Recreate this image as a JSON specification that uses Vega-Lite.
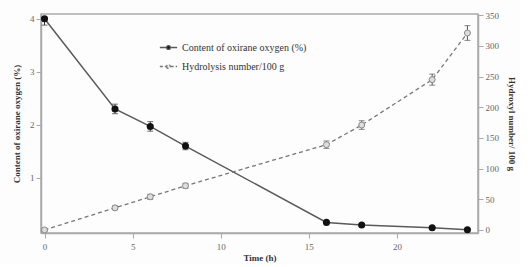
{
  "$schema": "https://vega.github.io/schema/vega-lite/v6.json",
  "width": 437,
  "height": 219,
  "padding": {"left": 12, "top": 11, "right": 4, "bottom": 2},
  "background": "#fdfdfd",
  "config": {
    "font": "Liberation Serif",
    "view": {"stroke": "#aaaaaa", "strokeWidth": 1.5},
    "axis": {"grid": false, "domainColor": "#aaaaaa", "tickColor": "#aaaaaa", "labelColor": "#666666", "labelFontSize": 9, "titleFontSize": 9, "titleFontWeight": "bold", "titleColor": "#333333", "domainWidth": 1.5, "labelOverlap": false}
  },
  "data": {"values": [
    {"t": 0, "ox": 4.0, "oxlo": 3.88, "oxhi": 4.03, "hy": 0, "hylo": -2, "hyhi": 2},
    {"t": 4, "ox": 2.3, "oxlo": 2.21, "oxhi": 2.39, "hy": 36, "hylo": 33, "hyhi": 39},
    {"t": 6, "ox": 1.97, "oxlo": 1.88, "oxhi": 2.06, "hy": 54, "hylo": 50, "hyhi": 58},
    {"t": 8, "ox": 1.6, "oxlo": 1.53, "oxhi": 1.67, "hy": 72, "hylo": 68, "hyhi": 76},
    {"t": 16, "ox": 0.16, "oxlo": 0.14, "oxhi": 0.18, "hy": 139, "hylo": 133, "hyhi": 145},
    {"t": 18, "ox": 0.11, "oxlo": 0.09, "oxhi": 0.13, "hy": 171, "hylo": 164, "hyhi": 178},
    {"t": 22, "ox": 0.06, "oxlo": 0.05, "oxhi": 0.07, "hy": 245, "hylo": 236, "hyhi": 254},
    {"t": 24, "ox": 0.02, "oxlo": 0.01, "oxhi": 0.03, "hy": 321, "hylo": 309, "hyhi": 333}
  ]},
  "layer": [
    {
      "encoding": {
        "x": {"field": "t", "type": "quantitative", "scale": {"domain": [-0.2, 24.6], "nice": false, "zero": false}, "axis": {"values": [0, 5, 10, 15, 20], "title": "Time (h)", "titlePadding": 2, "labelPadding": 4}}
      },
      "layer": [
        {
          "mark": {"type": "line", "strokeWidth": 1.5},
          "encoding": {
            "y": {"field": "ox", "type": "quantitative", "title": "Content of oxirane oxygen (%)", "scale": {"domain": [-0.04, 4.09], "nice": false, "zero": false}, "axis": {"values": [1, 2, 3, 4], "format": "d", "orient": "left", "titlePadding": 8, "labelOverlap": false}},
            "color": {"datum": "Content of oxirane oxygen (%)", "type": "nominal", "scale": {"domain": ["Content of oxirane oxygen (%)", "Hydrolysis number/100 g"], "range": ["#5a5a5a", "#777777"]},
              "legend": {"orient": "none", "legendX": 118, "legendY": 24, "title": null, "labelFont": "Liberation Serif", "labelFontSize": 10, "labelColor": "#333333", "rowPadding": 4, "symbolSize": 300, "symbolStrokeWidth": 1.3,
                "symbolType": "M-1,0L-0.25,0M0.25,0L1,0M-0.22,0A0.22,0.22 0 1,0 0.22,0A0.22,0.22 0 1,0 -0.22,0Z",
                "encode": {"symbols": {"update": {
                  "fill": {"signal": "datum.value === 'Content of oxirane oxygen (%)' ? '#111111' : '#eeeeee'"},
                  "stroke": {"signal": "datum.value === 'Content of oxirane oxygen (%)' ? '#111111' : '#888888'"},
                  "strokeDash": {"signal": "datum.value === 'Content of oxirane oxygen (%)' ? [] : [3, 2]"}
                }}}}}
          }
        },
        {
          "mark": {"type": "errorbar", "ticks": {"size": 6, "color": "#333333"}, "color": "#333333"},
          "encoding": {"y": {"field": "oxlo", "type": "quantitative", "title": "Content of oxirane oxygen (%)", "axis": {"values": [1, 2, 3, 4], "format": "d", "orient": "left", "titlePadding": 8, "labelOverlap": false}}, "y2": {"field": "oxhi"}}
        },
        {
          "mark": {"type": "point", "filled": true, "color": "#111111", "size": 50, "opacity": 1},
          "encoding": {"y": {"field": "ox", "type": "quantitative", "title": "Content of oxirane oxygen (%)", "axis": {"values": [1, 2, 3, 4], "format": "d", "orient": "left", "titlePadding": 8, "labelOverlap": false}}}
        }
      ]
    },
    {
      "encoding": {
        "x": {"field": "t", "type": "quantitative"}
      },
      "layer": [
        {
          "mark": {"type": "line", "color": "#777777", "strokeWidth": 1.3, "strokeDash": [4, 3]},
          "encoding": {
            "y": {"field": "hy", "type": "quantitative", "title": "Hydroxyl number/ 100 g", "scale": {"domain": [-5, 352], "nice": false, "zero": false}, "axis": {"values": [0, 50, 100, 150, 200, 250, 300, 350], "orient": "right", "titleAngle": 90, "titlePadding": 8, "labelOverlap": false, "labelFlush": false}}
          }
        },
        {
          "mark": {"type": "errorbar", "ticks": {"size": 6, "color": "#555555"}, "color": "#555555"},
          "encoding": {"y": {"field": "hylo", "type": "quantitative", "title": "Hydroxyl number/ 100 g", "axis": {"values": [0, 50, 100, 150, 200, 250, 300, 350], "orient": "right", "titleAngle": 90, "titlePadding": 8, "labelOverlap": false, "labelFlush": false}}, "y2": {"field": "hyhi"}}
        },
        {
          "mark": {"type": "point", "filled": true, "fill": "#dddddd", "stroke": "#888888", "strokeWidth": 1, "size": 36, "opacity": 1},
          "encoding": {"y": {"field": "hy", "type": "quantitative", "title": "Hydroxyl number/ 100 g", "axis": {"values": [0, 50, 100, 150, 200, 250, 300, 350], "orient": "right", "titleAngle": 90, "titlePadding": 8, "labelOverlap": false, "labelFlush": false}}}
        }
      ]
    }
  ],
  "resolve": {"scale": {"y": "independent"}, "axis": {"y": "independent"}}
}
